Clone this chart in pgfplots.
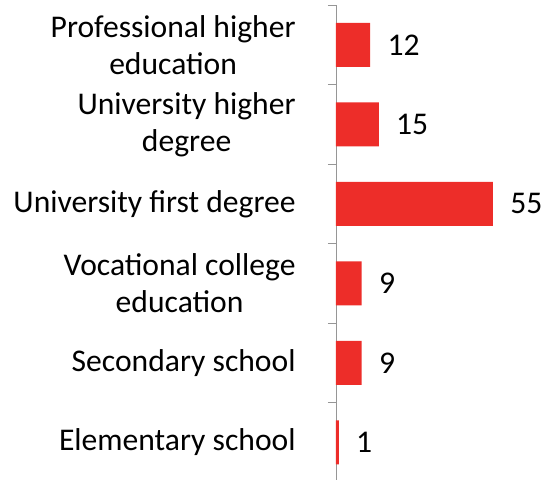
\documentclass[border=0pt]{standalone}
\usepackage{fontspec}
\setmainfont{Carlito}
\usepackage{pgfplots}
\pgfplotsset{compat=1.18}
\definecolor{barred}{RGB}{237,45,41}
\definecolor{axgray}{RGB}{150,150,150}

\begin{document}
\begin{tikzpicture}
\useasboundingbox (-168pt,1.5pt) rectangle (103pt,241pt);
\begin{axis}[
  at={(0,0)}, anchor=south west,
  scale only axis, width=78.5pt, height=238.5pt,
  xbar, bar width=22pt,
  xmin=0, xmax=55, ymin=-0.5, ymax=5.5,
  axis x line=none, axis y line*=left,
  axis line style={axgray},
  ytick={0,...,5},
  yticklabels={Elementary school, Secondary school, Vocational college\\education,
    University first degree, University higher\\degree, Professional higher\\education},
  minor ytick={-0.5,0.5,...,5.5},
  major tick length=0pt, minor tick length=4pt, tick align=outside,
  minor tick style={axgray},
  yticklabel style={align=center, anchor=east, inner sep=0pt, xshift=-20pt,
    font=\fontsize{15.8}{18.5}\selectfont},
  /pgf/number format/assume math mode=true,
  nodes near coords,
  every node near coord/.append style={anchor=west, inner sep=0pt, xshift=8.5pt,
    font=\fontsize{15.8}{18.5}\selectfont, text=black},
  clip=false,
]
\addplot[fill=barred, draw=none] coordinates {(1,0) (9,1) (9,2) (55,3) (15,4) (12,5)};
\end{axis}
\end{tikzpicture}
\end{document}
